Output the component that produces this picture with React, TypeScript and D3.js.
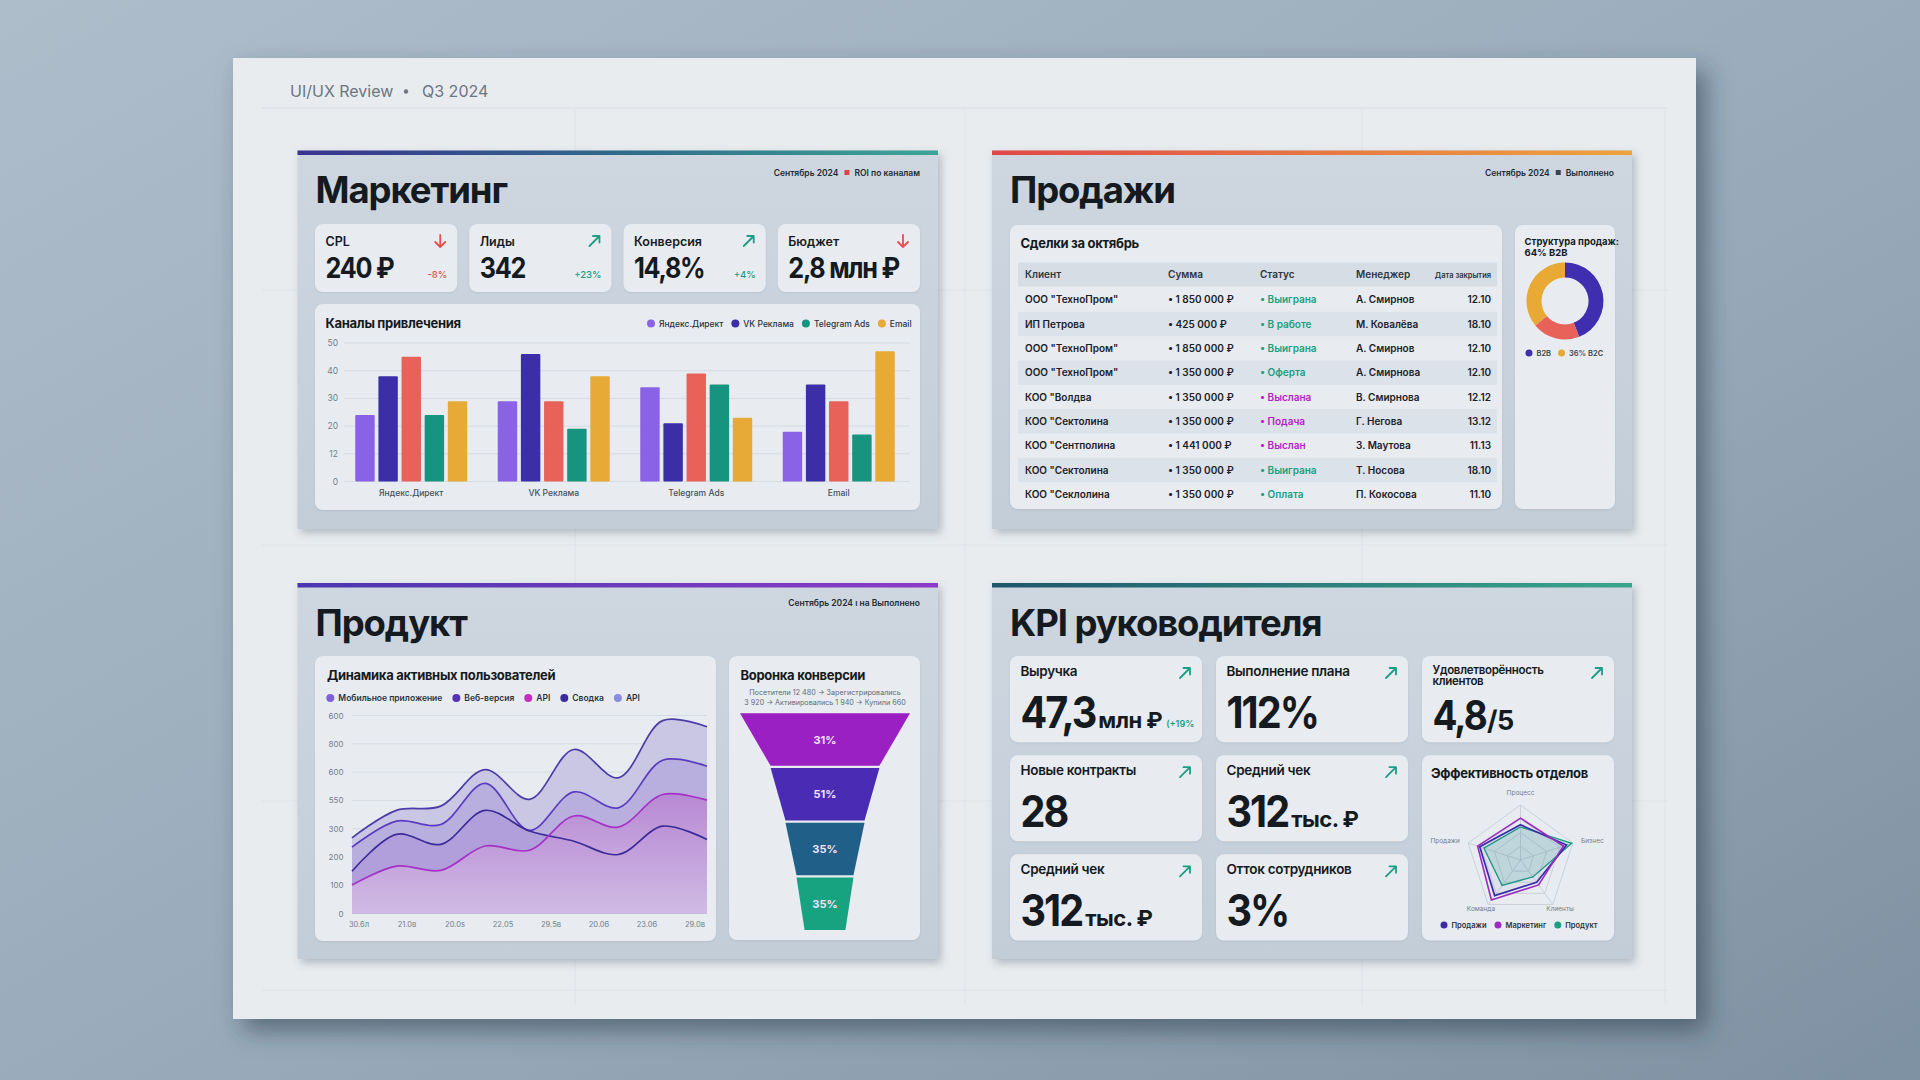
import React from "react";
import * as d3 from "d3";

const W = 1920;
const H = 1080;
const FONT = "Inter, 'Noto Sans', 'DejaVu Sans', sans-serif";
const INK = "#151a21";
const MUTED = "#737e8a";
const GREEN = "#1a9f82";
const RED = "#e0504f";
const CARD = "#e8ecf0";

// ---------- header ----------
const headerLeft = "UI/UX Review";
const headerRight = "Q3 2024";

// ---------- marketing ----------
const mktKpiLabels = ["CPL", "Лиды", "Конверсия", "Бюджет"];
const mktKpiValues = ["240 ₽", "342", "14,8%", "2,8 млн ₽"];
const mktKpiDeltas = ["-8%", "+23%", "+4%", ""];
const mktKpiUp = [false, true, true, false];

const channels = ["Яндекс.Директ", "VK Реклама", "Telegram Ads", "Email"];
const yandexValues = [24, 29, 34, 18];
const vkValues = [38, 46, 21, 35];
const roiValues = [45, 29, 39, 29];
const telegramValues = [24, 19, 35, 17];
const emailValues = [29, 38, 23, 47];
const barColors = ["#8a62e6", "#3b2ea6", "#e8625a", "#17947f", "#e8aa37"];
const barLegend = ["Яндекс.Директ", "VK Реклама", "Telegram Ads", "Email"];
const barLegendColors = ["#8a62e6", "#3b2ea6", "#17947f", "#e8aa37"];
const barTicks = [0, 10, 20, 30, 40, 50];
const barTickLabels = ["0", "12", "20", "30", "40", "50"];

// ---------- sales ----------
const dealColumns = ["Клиент", "Сумма", "Статус", "Менеджер", "Дата закрытия"];
const dealClients = ['ООО "ТехноПром"', "ИП Петрова", 'ООО "ТехноПром"', 'ООО "ТехноПром"', 'КОО "Волдва', 'КОО "Сектолина', 'КОО "Сентполина', 'КОО "Сектолина', 'КОО "Секлолина'];
const dealSums = ["1 850 000 ₽", "425 000 ₽", "1 850 000 ₽", "1 350 000 ₽", "1 350 000 ₽", "1 350 000 ₽", "1 441 000 ₽", "1 350 000 ₽", "1 350 000 ₽"];
const dealStatuses = ["Выиграна", "В работе", "Выиграна", "Оферта", "Выслана", "Подача", "Выслан", "Выиграна", "Оплата"];
const dealManagers = ["А. Смирнов", "М. Ковалёва", "А. Смирнов", "А. Смирнова", "В. Смирнова", "Г. Негова", "З. Маутова", "Т. Носова", "П. Кокосова"];
const dealDates = ["12.10", "18.10", "12.10", "12.10", "12.12", "13.12", "11.13", "18.10", "11.10"];
const pendingStatuses = ["Выслана", "Подача", "Выслан"];

const shareLabels = ["B2B крупные", "B2B малые", "B2C"];
const shareValues = [44, 20, 36];
const shareColors = ["#3f2fb0", "#e8625a", "#e8a935"];
const shareLegend = ["B2B", "36% B2C"];

// ---------- product ----------
const productDates = ["30.6л", "21.0в", "20.0s", "22.05", "29.5в", "20.06", "23.06", "29.0в"];
const usersTotal = [268, 365, 380, 509, 404, 580, 480, 682, 660];
const usersWeb = [235, 327, 315, 460, 294, 430, 374, 542, 521];
const usersMobile = [150, 280, 245, 365, 292, 256, 209, 309, 262];
const usersApi = [101, 168, 153, 239, 224, 345, 306, 421, 401];
const userTicks = [0, 100, 200, 300, 400, 500, 600, 700];
const userTickLabels = ["0", "100", "200", "300", "550", "600", "800", "600"];
const userLegend = ["Мобильное приложение", "Веб-версия", "API", "Сводка", "API"];
const userLegendColors = ["#7d62dc", "#5432b8", "#c030c4", "#3a2a9c", "#8c8ce0"];

const funnelEdges = [100, 64, 46.5, 33.5, 24];
const funnelLabels = ["31%", "51%", "35%", "35%"];
const funnelColors = ["#9b20c4", "#4a2cb4", "#1f5f88", "#17a37f"];
const funnelNote = ["Посетители 12 480 → Зарегистрировались", "3 920 → Активировались 1 940 → Купили 660"];

// ---------- KPI ----------
const kpiLabels = ["Выручка", "Выполнение плана", "Удовлетворённость|клиентов", "Новые контракты", "Средний чек", "Средний чек", "Отток сотрудников"];
const kpiValues = ["47,3", "112%", "4,8", "28", "312", "312", "3%"];
const kpiUnits = ["млн ₽", "", "/5", "", "тыс. ₽", "тыс. ₽", ""];
const kpiExtras = ["(+19%", "", "", "", "", "", ""];

const radarAxes = ["Процесс", "Бизнес", "Клиенты", "Команда", "Продажи"];
const radarSales = [64, 88, 50, 80, 78];
const radarMarketing = [76, 82, 56, 90, 82];
const radarProduct = [60, 98, 38, 57, 70];
const radarNames = ["Продажи", "Маркетинг", "Продукт"];
const radarColors = ["#3a2ca8", "#9a2ac0", "#1a9e80"];

// ---------- helpers ----------
const measureCtx = typeof document !== "undefined" ? document.createElement("canvas").getContext("2d") : null;
function textWidth(t: string, size: number, weight = 600) {
  if (!measureCtx) return t.length * size * 0.55;
  measureCtx.font = `${weight} ${size}px Inter`;
  return measureCtx.measureText(t).width;
}

function Legend({ x, y, labels, colors, size, r, gap, weight = 600, fill = "#2a3340" }: any) {
  let cx = x;
  return (
    <g>
      {labels.map((l: string, i: number) => {
        const dotX = cx + r;
        const tx = cx + 2 * r + 4;
        cx = tx + textWidth(l, size, weight) + gap;
        return (
          <g key={i}>
            <circle cx={dotX} cy={y} r={r} fill={colors[i]} />
            <text x={tx} y={y + size * 0.36} fontSize={size} fontWeight={weight} fill={fill}>{l}</text>
          </g>
        );
      })}
    </g>
  );
}

function Arrow({ x, y, up, color }: any) {
  const d = up
    ? `M${x - 5},${y + 5}L${x + 5},${y - 5}M${x - 1.5},${y - 5}L${x + 5},${y - 5}L${x + 5},${y + 1.5}`
    : `M${x},${y - 6}L${x},${y + 6}M${x - 5},${y + 1}L${x},${y + 6}L${x + 5},${y + 1}`;
  return <path d={d} fill="none" stroke={color} strokeWidth={1.8} strokeLinecap="round" strokeLinejoin="round" />;
}

function BigValue({ x, y, value, size, unit, unitSize, unitGap = 3, extra }: any) {
  const ls = -size * 0.05;
  const sx = 0.9;
  const w = (textWidth(value, size, 700) + ls * value.length) * sx;
  const uw = unit ? textWidth(unit, unitSize, 700) - 0.5 * unit.length : 0;
  return (
    <g>
      <text transform={`translate(${x},${y}) scale(${sx},1)`} fontSize={size} fontWeight={700} letterSpacing={ls} fill={INK}>{value}</text>
      {unit ? <text x={x + w + unitGap} y={y} fontSize={unitSize} fontWeight={700} letterSpacing={-0.5} fill={INK}>{unit}</text> : null}
      {extra ? <text x={x + w + unitGap + uw + 4} y={y - 1} fontSize={9} fontWeight={600} fill={GREEN}>{extra}</text> : null}
    </g>
  );
}

function Card({ x, y, w, h }: any) {
  return <rect x={x} y={y} width={w} height={h} rx={8} fill={CARD} filter="url(#cardShadow)" />;
}

function Panel({ x, y, w, h, grad, title, children }: any) {
  return (
    <g>
      <rect x={x} y={y} width={w} height={h} fill="url(#panelGrad)" filter="url(#panelShadow)" />
      <rect x={x} y={y} width={w} height={4.5} fill={`url(#${grad})`} />
      <text x={x + 18} y={y + 52.5} fontSize={36.5} fontWeight={700} letterSpacing={-1.1} fill={INK}>{title}</text>
      {children}
    </g>
  );
}

function Note({ right, y, first, second, square }: any) {
  const w2 = textWidth(second, 8.5, 600);
  const sqX = right - w2 - 10;
  return (
    <g fontSize={8.5} fontWeight={600} fill="#232a33">
      <text x={right} y={y} textAnchor="end">{second}</text>
      {square ? <rect x={sqX} y={y - 6} width={5} height={5} fill={square} /> : null}
      <text x={square ? sqX - 6 : right - w2 - 4} y={y} textAnchor="end">{first}</text>
    </g>
  );
}

// ---------- marketing ----------
function Marketing() {
  const cardX = d3.scaleBand<number>().domain(d3.range(4)).range([315, 920]).paddingInner(0.078);
  const x0 = d3.scaleBand<string>().domain(channels).range([341, 909]).paddingInner(0.214).paddingOuter(0.1);
  const x1 = d3.scaleBand<number>().domain(d3.range(5)).range([0, x0.bandwidth()]).paddingInner(0.16);
  const y = d3.scaleLinear().domain([0, 50]).range([481.5, 343]);
  const series = [yandexValues, vkValues, roiValues, telegramValues, emailValues];
  return (
    <Panel x={297.5} y={150.5} w={640.5} h={378.5} grad="gMkt" title="Маркетинг">
      <Note right={920} y={176} first="Сентябрь 2024" second="ROI по каналам" square="#d9434a" />
      {mktKpiLabels.map((l, i) => {
        const cx = cardX(i)!;
        const cw = cardX.bandwidth();
        return (
          <g key={l}>
            <Card x={cx} y={224} w={cw} h={68} />
            <text x={cx + 10.5} y={246} fontSize={12.5} fontWeight={600} fill={INK}>{l}</text>
            <Arrow x={cx + cw - 17} y={241} up={mktKpiUp[i]} color={mktKpiUp[i] ? GREEN : RED} />
            <BigValue x={cx + 10.5} y={278} value={mktKpiValues[i]} size={28} />
            <text x={cx + cw - 10} y={278} textAnchor="end" fontSize={9.5} fontWeight={500} fill={mktKpiUp[i] ? GREEN : RED}>{mktKpiDeltas[i]}</text>
          </g>
        );
      })}
      <Card x={315} y={304} w={605} h={206} />
      <text x={325.5} y={328} fontSize={13} fontWeight={700} letterSpacing={-0.3} fill={INK}>Каналы привлечения</text>
      <Legend x={647} y={323.5} labels={barLegend} colors={barLegendColors} size={8.5} r={4} gap={8} weight={500} />
      {barTicks.map((t, i) => (
        <g key={t}>
          <line x1={344} x2={910} y1={y(t)} y2={y(t)} stroke="#d5dbe2" strokeWidth={1} />
          <text x={338} y={y(t) + 3} textAnchor="end" fontSize={8.5} fill={MUTED}>{barTickLabels[i]}</text>
        </g>
      ))}
      {channels.map((c, ci) => (
        <g key={c} transform={`translate(${x0(c)},0)`}>
          {series.map((s, si) => (
            <rect key={si} x={x1(si)} y={y(s[ci])} width={x1.bandwidth()} height={y(0) - y(s[ci])} fill={barColors[si]} rx={1} />
          ))}
          <text x={x0.bandwidth() / 2} y={496} textAnchor="middle" fontSize={8.5} fontWeight={500} fill="#45505c">{c}</text>
        </g>
      ))}
    </Panel>
  );
}

// ---------- sales ----------
function Sales() {
  const rowY = d3.scaleBand<number>().domain(d3.range(dealClients.length)).range([287.5, 506.5]);
  const colX = [1025, 1168, 1260, 1356];
  const pie = d3.pie<number>().sort(null).value((d) => d);
  const arc = d3.arc<d3.PieArcDatum<number>>().innerRadius(23.5).outerRadius(38.5);
  const arcs = pie(shareValues);
  return (
    <Panel x={992} y={150.5} w={640} h={378.5} grad="gSales" title="Продажи">
      <Note right={1614} y={176} first="Сентябрь 2024" second="Выполнено" square="#3a4450" />
      <Card x={1010} y={225} w={492} h={284} />
      <text x={1020.5} y={247.5} fontSize={13} fontWeight={700} letterSpacing={-0.3} fill={INK}>Сделки за октябрь</text>
      <rect x={1018} y={262.5} width={479} height={24} fill="#d6dde5" />
      {dealColumns.slice(0, 4).map((c, i) => (
        <text key={c} x={colX[i]} y={277.5} fontSize={10} fontWeight={600} fill="#2d3540">{c}</text>
      ))}
      <text x={1491} y={277.5} textAnchor="end" fontSize={7.5} fontWeight={600} fill="#2d3540">{dealColumns[4]}</text>
      {dealClients.map((cl, i) => {
        const top = rowY(i)!;
        const by = top + rowY.bandwidth() / 2 + 3.5;
        const sc = pendingStatuses.includes(dealStatuses[i]) ? "#b51fc8" : GREEN;
        return (
          <g key={i} fontSize={10} fontWeight={600} fill="#1b2129">
            {i % 2 === 1 ? <rect x={1018} y={top} width={479} height={rowY.bandwidth()} fill="#dce2e9" /> : null}
            <text x={colX[0]} y={by}>{cl}</text>
            <text x={colX[1]} y={by}>{"• " + dealSums[i]}</text>
            <text x={colX[2]} y={by} fill={sc}>{"• " + dealStatuses[i]}</text>
            <text x={colX[3]} y={by}>{dealManagers[i]}</text>
            <text x={1491} y={by} textAnchor="end">{dealDates[i]}</text>
          </g>
        );
      })}
      <Card x={1515} y={225} w={100} h={284} />
      <text x={1524.5} y={244.5} fontSize={9.5} fontWeight={700} fill={INK}>Структура продаж:</text>
      <text x={1524.5} y={255.5} fontSize={9.5} fontWeight={700} fill={INK}>64% B2B</text>
      <g transform="translate(1565,301)">
        {arcs.map((a, i) => (
          <path key={shareLabels[i]} d={arc(a)!} fill={shareColors[i]} />
        ))}
      </g>
      <Legend x={1525.5} y={353} labels={shareLegend} colors={[shareColors[0], shareColors[2]]} size={7.5} r={3.5} gap={7} weight={600} fill="#3a4450" />
    </Panel>
  );
}

// ---------- product ----------
function Product() {
  const xP = d3.scalePoint<number>().domain(d3.range(usersTotal.length)).range([352, 707]);
  const xD = d3.scalePoint<string>().domain(productDates).range([359, 695]);
  const y = d3.scaleLinear().domain([0, 700]).range([913.7, 715.5]);
  const curve = d3.curveCatmullRom.alpha(0.5);
  const area = d3.area<number>().x((_, i) => xP(i)!).y0(y(0)).y1((d) => y(d)).curve(curve);
  const line = d3.line<number>().x((_, i) => xP(i)!).y((d) => y(d)).curve(curve);
  const fw = d3.scaleLinear().domain([0, 100]).range([0, 170]);
  const fy = d3.scaleBand<number>().domain(d3.range(funnelLabels.length)).range([713.3, 930]).paddingInner(0.04);
  const fcx = 825;
  return (
    <Panel x={297.5} y={583} w={640.5} h={376} grad="gProd" title="Продукт">
      <text x={920} y={606} textAnchor="end" fontSize={8.5} fontWeight={600} fill="#232a33">Сентябрь 2024 ı на Выполнено</text>
      <Card x={315} y={656} w={401} h={285} />
      <text x={327} y={679.5} fontSize={13} fontWeight={700} letterSpacing={-0.3} fill={INK}>Динамика активных пользователей</text>
      <Legend x={326.3} y={698} labels={userLegend} colors={userLegendColors} size={8.5} r={4} gap={10} weight={600} />
      {userTicks.map((t, i) => (
        <g key={t}>
          <line x1={352} x2={707} y1={y(t)} y2={y(t)} stroke="#d6dce3" strokeWidth={1} />
          <text x={343.5} y={y(t) + 3} textAnchor="end" fontSize={8} fill={MUTED}>{userTickLabels[i]}</text>
        </g>
      ))}
      <path d={area(usersTotal)!} fill="#c6c3e3" opacity={0.9} />
      <path d={area(usersWeb)!} fill="#a290d6" opacity={0.42} />
      <path d={area(usersMobile)!} fill="#a07fd0" opacity={0.32} />
      <path d={area(usersApi)!} fill="url(#apiGrad)" opacity={0.72} />
      <path d={line(usersTotal)!} fill="none" stroke="#4b3ca8" strokeWidth={1.7} />
      <path d={line(usersWeb)!} fill="none" stroke="#5a3cc0" strokeWidth={1.7} />
      <path d={line(usersMobile)!} fill="none" stroke="#3b2b98" strokeWidth={1.7} />
      <path d={line(usersApi)!} fill="none" stroke="#a631c6" strokeWidth={1.7} />
      {productDates.map((d) => (
        <text key={d} x={xD(d)} y={927} textAnchor="middle" fontSize={7.5} fill={MUTED}>{d}</text>
      ))}

      <Card x={729} y={656} w={191} h={284} />
      <text x={740.5} y={679.5} fontSize={13} fontWeight={700} letterSpacing={-0.3} fill={INK}>Воронка конверсии</text>
      {funnelNote.map((n, i) => (
        <text key={i} x={fcx} y={695 + i * 9.5} textAnchor="middle" fontSize={7.2} fill="#5f6a76">{n}</text>
      ))}
      {funnelLabels.map((l, i) => {
        const t = fy(i)!;
        const b = t + fy.bandwidth();
        const wt = fw(funnelEdges[i]) / 2;
        const wb = fw(funnelEdges[i + 1]) / 2;
        return (
          <g key={i}>
            <path d={`M${fcx - wt},${t}L${fcx + wt},${t}L${fcx + wb},${b}L${fcx - wb},${b}Z`} fill={funnelColors[i]} />
            <text x={fcx} y={(t + b) / 2 + 4} textAnchor="middle" fontSize={11} fontWeight={700} fill="#efe3ff">{l}</text>
          </g>
        );
      })}
    </Panel>
  );
}

// ---------- KPI ----------
function Kpi() {
  const col = d3.scaleBand<number>().domain(d3.range(3)).range([1010, 1614]).paddingInner(0.068);
  const row = d3.scaleBand<number>().domain(d3.range(3)).range([656, 940.5]).paddingInner(0.131);
  const cells = [[0, 0], [1, 0], [2, 0], [0, 1], [1, 1], [0, 2], [1, 2]];
  const rc = { x: 1520.5, y: 860 };
  const rr = d3.scaleLinear().domain([0, 100]).range([0, 55]);
  const pt = (i: number, v: number) => {
    const a = (i * 2 * Math.PI) / radarAxes.length;
    return [rc.x + rr(v) * Math.sin(a), rc.y - rr(v) * Math.cos(a)];
  };
  const poly = (vals: number[]) => vals.map((v, i) => pt(i, v).join(",")).join(" ");
  const labelPos = [
    [0, -5, "middle"], [3, 2, "start"], [4, 2, "middle"], [-4, 2, "middle"], [-3, 2, "end"],
  ];
  const rx = col(2)!;
  const ry = row(1)!;
  return (
    <Panel x={992} y={583} w={640} h={376} grad="gKpi" title="KPI руководителя">
      {kpiLabels.map((l, i) => {
        const [c, r] = cells[i];
        const x = col(c)!;
        const y = row(r)!;
        const w = col.bandwidth();
        const lines = l.split("|");
        const two = lines.length > 1;
        return (
          <g key={i}>
            <Card x={x} y={y} w={w} h={row.bandwidth()} />
            {lines.map((ln, li) => (
              <text key={li} x={x + 10.5} y={y + (two ? 18 : 20) + li * 11} fontSize={two ? 11.5 : 13.5} fontWeight={600} letterSpacing={-0.3} fill={INK}>{ln}</text>
            ))}
            <Arrow x={x + w - 17} y={y + 17} up={true} color={GREEN} />
            <BigValue x={x + 10.5} y={y + (two ? 74 : 72)} value={kpiValues[i]} size={two ? 41 : 44} unit={kpiUnits[i]} unitSize={kpiUnits[i] === "/5" ? 27 : 22} unitGap={kpiUnits[i] === "/5" ? 1 : 3} extra={kpiExtras[i]} />
          </g>
        );
      })}
      <Card x={rx} y={ry} w={col.bandwidth()} h={row(2)! + row.bandwidth() - ry} />
      <text x={rx + 9} y={ry + 23} fontSize={13} fontWeight={700} letterSpacing={-0.3} fill={INK}>Эффективность отделов</text>
      {[25, 50, 75, 100].map((lv) => (
        <polygon key={lv} points={poly(radarAxes.map(() => lv))} fill="none" stroke="#c3cad3" strokeWidth={0.8} />
      ))}
      {radarAxes.map((a, i) => {
        const [ex, ey] = pt(i, 100);
        const [lx, ly] = pt(i, 110);
        const lp = labelPos[i];
        return (
          <g key={a}>
            <line x1={rc.x} y1={rc.y} x2={ex} y2={ey} stroke="#c3cad3" strokeWidth={0.8} />
            <text x={lx + (lp[0] as number)} y={ly + (lp[1] as number)} textAnchor={lp[2] as any} fontSize={6.5} fill={MUTED}>{a}</text>
          </g>
        );
      })}
      <polygon points={poly(radarProduct)} fill="#1a9e80" fillOpacity={0.16} stroke={radarColors[2]} strokeWidth={1.3} />
      <polygon points={poly(radarSales)} fill="#3a2ca8" fillOpacity={0.05} stroke={radarColors[0]} strokeWidth={1.7} />
      <polygon points={poly(radarMarketing)} fill="none" stroke={radarColors[1]} strokeWidth={1.6} />
      <Legend x={1440.5} y={925} labels={radarNames} colors={radarColors} size={7.5} r={3.5} gap={8} weight={600} fill="#2a3340" />
    </Panel>
  );
}

export default function App() {
  const gridV = [575, 965, 1362, 1665];
  const gridH = [290, 545, 801, 990];
  return (
    <svg width={W} height={H} viewBox={`0 0 ${W} ${H}`} style={{ position: "absolute", left: 0, top: 0, fontFamily: FONT }}>
      <defs>
        <linearGradient id="bgGrad" x1="0" y1="0" x2="1" y2="1">
          <stop offset="0" stopColor="#aebdca" />
          <stop offset="0.6" stopColor="#96a8b8" />
          <stop offset="1" stopColor="#7e91a2" />
        </linearGradient>
        <linearGradient id="panelGrad" x1="0" y1="0" x2="0" y2="1">
          <stop offset="0" stopColor="#ced7e0" />
          <stop offset="1" stopColor="#c3cdd8" />
        </linearGradient>
        <linearGradient id="gMkt" x1="0" x2="1">
          <stop offset="0" stopColor="#3a3390" />
          <stop offset="0.5" stopColor="#2f6a8a" />
          <stop offset="1" stopColor="#3ea596" />
        </linearGradient>
        <linearGradient id="gSales" x1="0" x2="1">
          <stop offset="0" stopColor="#e04848" />
          <stop offset="1" stopColor="#eca43e" />
        </linearGradient>
        <linearGradient id="gProd" x1="0" x2="1">
          <stop offset="0" stopColor="#4b36b0" />
          <stop offset="1" stopColor="#8c3cc6" />
        </linearGradient>
        <linearGradient id="gKpi" x1="0" x2="1">
          <stop offset="0" stopColor="#1e566c" />
          <stop offset="1" stopColor="#3aa58c" />
        </linearGradient>
        <linearGradient id="apiGrad" x1="0" y1="0" x2="0" y2="1">
          <stop offset="0" stopColor="#b779cf" />
          <stop offset="1" stopColor="#dcc6e8" />
        </linearGradient>
        <filter id="paperShadow" x="-10%" y="-10%" width="125%" height="125%">
          <feDropShadow dx={10} dy={12} stdDeviation={12} floodColor="#2c3a48" floodOpacity={0.55} />
        </filter>
        <filter id="panelShadow" x="-10%" y="-10%" width="125%" height="125%">
          <feDropShadow dx={3} dy={4} stdDeviation={4} floodColor="#4a5968" floodOpacity={0.35} />
        </filter>
        <filter id="cardShadow" x="-10%" y="-10%" width="120%" height="125%">
          <feDropShadow dx={0} dy={1} stdDeviation={1.2} floodColor="#7c8a99" floodOpacity={0.2} />
        </filter>
      </defs>
      <rect width={W} height={H} fill="url(#bgGrad)" />
      <rect x={233} y={58} width={1463} height={961} fill="#e9ecef" filter="url(#paperShadow)" />
      {gridV.map((gx) => (
        <line key={gx} x1={gx} x2={gx} y1={110} y2={1005} stroke="#dee2e6" strokeWidth={1} />
      ))}
      {gridH.map((gy) => (
        <line key={gy} x1={262} x2={1668} y1={gy} y2={gy} stroke="#dee2e6" strokeWidth={1} />
      ))}
      <line x1={262} x2={1668} y1={108} y2={108} stroke="#d7dce1" strokeWidth={1} />
      <text x={290} y={97} fontSize={16} fontWeight={400} fill="#6b7682">{headerLeft}</text>
      <circle cx={406} cy={91.5} r={2.2} fill="#6b7682" />
      <text x={422} y={97} fontSize={16} fontWeight={400} fill="#6b7682">{headerRight}</text>
      <Marketing />
      <Sales />
      <Product />
      <Kpi />
    </svg>
  );
}
